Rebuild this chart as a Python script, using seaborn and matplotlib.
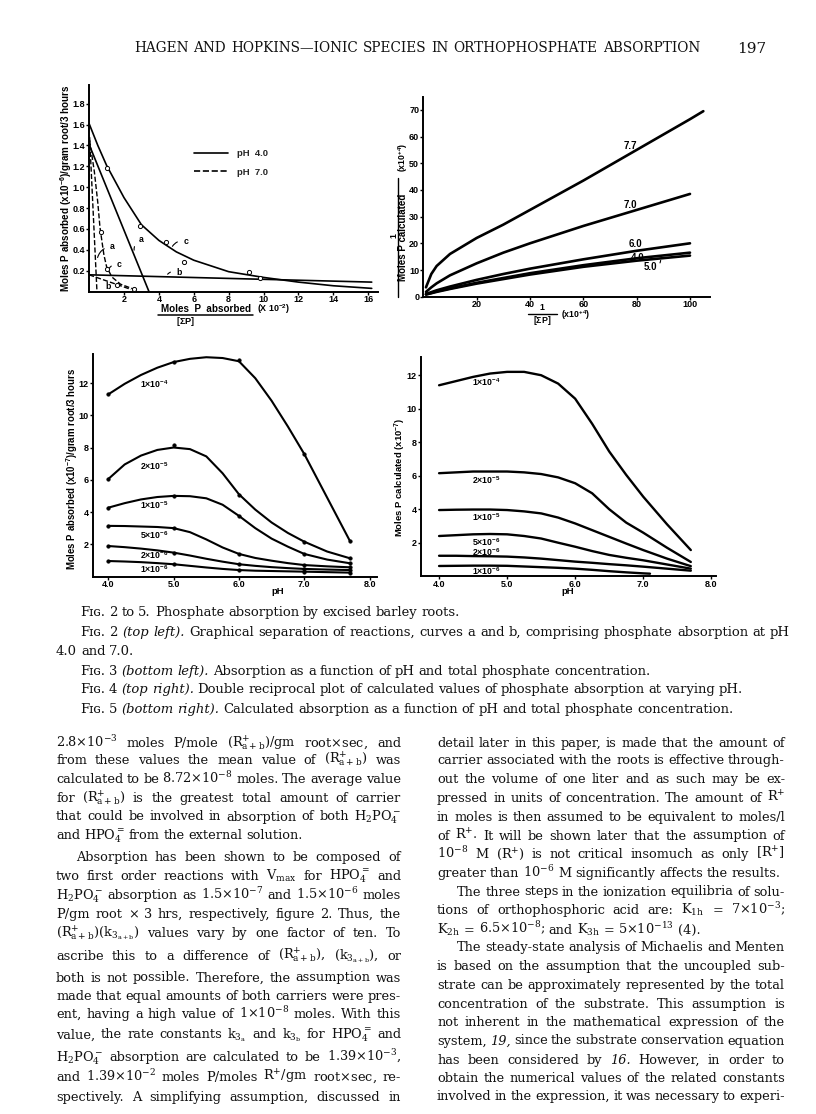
import numpy as np
import pandas as pd
import matplotlib
matplotlib.use("Agg")
import matplotlib.pyplot as plt
from matplotlib.lines import Line2D
import seaborn as sns

sns.set_style("ticks")
plt.rcParams['font.family'] = ['Liberation Sans', 'DejaVu Sans']
plt.rcParams['mathtext.fontset'] = 'custom'
plt.rcParams['mathtext.rm'] = 'Liberation Sans:bold'
plt.rcParams['mathtext.it'] = 'Liberation Sans:bold:italic'
plt.rcParams['mathtext.bf'] = 'Liberation Sans:bold'

W, H = 816, 1114
fig = plt.figure(figsize=(W / 100, H / 100), dpi=100)
fig.patch.set_facecolor("white")
renderer = fig.canvas.get_renderer()

# ---------------- data: Fig. 2 ----------------
f2_c4_x = [0, 0.5, 1, 2, 3, 4, 5, 6, 8, 10, 12, 14, 16.2]
f2_c4_y = [1.61, 1.40, 1.21, 0.90, 0.64, 0.49, 0.38, 0.30, 0.19, 0.135, 0.09, 0.055, 0.03]
f2_a4_x = [0, 3.43]
f2_a4_y = [1.41, 0.0]
f2_b4_x = [0, 16.2]
f2_b4_y = [0.16, 0.09]
f2_c7_x = [0.03, 0.3, 0.5, 0.62, 0.72, 0.85, 1.0, 1.3, 1.8, 2.6]
f2_c7_y = [1.45, 1.15, 0.85, 0.62, 0.50, 0.35, 0.24, 0.14, 0.07, 0.02]
f2_a7_x = [0.03, 0.45]
f2_a7_y = [1.48, 0.0]
f2_b7_x = [0, 2.4]
f2_b7_y = [0.16, 0.02]
f2_pts4_x = [1.04, 2.92, 4.39, 5.46, 9.16, 9.8]
f2_pts4_y = [1.18, 0.63, 0.47, 0.28, 0.19, 0.13]
f2_pts7_x = [0.68, 1.04, 1.6, 2.6]
f2_pts7_y = [0.57, 0.22, 0.06, 0.02]

# ---------------- data: Fig. 4 ----------------
f4_x = [1, 3, 5, 10, 20, 30, 40, 60, 80, 100]
f4_x77 = [1, 3, 5, 10, 20, 30, 40, 60, 80, 100, 105]
f4_77 = [3.5, 8.5, 11.5, 16, 22, 27, 32.5, 43.5, 55, 66.5, 69.5]
f4_70 = [1.8, 3.5, 5, 8, 12.5, 16.5, 20, 26.5, 32.5, 38.5]
f4_60 = [1.0, 1.7, 2.4, 3.8, 6.3, 8.5, 10.5, 14, 17.2, 20]
f4_40 = [0.9, 1.4, 2.0, 3.1, 5.2, 7.0, 8.8, 11.8, 14.4, 16.5]
f4_50 = [0.8, 1.3, 1.8, 2.9, 4.9, 6.6, 8.3, 11.2, 13.5, 15.4]

# ---------------- data: Fig. 3 (measured points + drawn curves) ----------------
ph_pts = [4.0, 5.0, 6.0, 7.0, 7.7]
f3p_1e4 = [11.3, 13.3, 13.4, 7.6, 2.2]
f3p_2e5 = [6.05, 8.15, 5.06, 2.16, 1.13]
f3p_1e5 = [4.27, 5.0, 3.76, 1.4, 0.82]
f3p_5e6 = [3.14, 3.03, 1.4, 0.71, 0.57]
f3p_2e6 = [1.89, 1.48, 0.76, 0.47, 0.40]
f3p_1e6 = [0.96, 0.76, 0.40, 0.30, 0.24]

ph_curve = [4.0, 4.25, 4.5, 4.75, 5.0, 5.25, 5.5, 5.75, 6.0, 6.25, 6.5, 6.75, 7.0, 7.35, 7.7]
f3c_1e4 = [11.3, 11.95, 12.5, 12.95, 13.3, 13.5, 13.6, 13.55, 13.35, 12.3, 10.9, 9.3, 7.6, 4.9, 2.2]
f3c_2e5 = [6.05, 6.95, 7.5, 7.85, 8.0, 7.9, 7.45, 6.4, 5.1, 4.15, 3.35, 2.7, 2.16, 1.55, 1.13]
f3c_1e5 = [4.27, 4.55, 4.78, 4.93, 5.0, 4.98, 4.85, 4.45, 3.76, 3.0, 2.35, 1.85, 1.4, 1.05, 0.82]
f3c_5e6 = [3.14, 3.13, 3.1, 3.07, 3.0, 2.75, 2.3, 1.8, 1.4, 1.15, 0.98, 0.83, 0.71, 0.63, 0.57]
f3c_2e6 = [1.89, 1.82, 1.73, 1.62, 1.48, 1.3, 1.1, 0.92, 0.76, 0.66, 0.58, 0.52, 0.47, 0.43, 0.40]
f3c_1e6 = [0.96, 0.93, 0.89, 0.83, 0.76, 0.66, 0.56, 0.47, 0.40, 0.36, 0.34, 0.32, 0.30, 0.27, 0.24]

# ---------------- data: Fig. 5 ----------------
f5c_1e4 = [11.4, 11.65, 11.9, 12.1, 12.2, 12.2, 12.0, 11.5, 10.6, 9.1, 7.45, 6.05, 4.75, 3.1, 1.56]
f5c_2e5 = [6.15, 6.2, 6.25, 6.25, 6.25, 6.2, 6.1, 5.9, 5.55, 4.95, 4.0, 3.2, 2.6, 1.7, 0.85]
f5c_1e5 = [3.95, 3.97, 3.98, 3.98, 3.95, 3.87, 3.75, 3.5, 3.15, 2.75, 2.35, 1.95, 1.56, 1.05, 0.6]
f5c_5e6 = [2.4, 2.45, 2.5, 2.52, 2.5, 2.4, 2.25, 2.0, 1.76, 1.5, 1.27, 1.1, 0.95, 0.7, 0.45]
f5c_2e6 = [1.22, 1.22, 1.2, 1.19, 1.17, 1.12, 1.05, 0.96, 0.87, 0.8, 0.72, 0.65, 0.57, 0.45, 0.33]
ph_curve_1e6 = [4.0, 4.25, 4.5, 4.75, 5.0, 5.25, 5.5, 5.75, 6.0, 6.25, 6.5, 6.75, 7.0, 7.1]
f5c_1e6 = [0.61, 0.62, 0.63, 0.63, 0.62, 0.58, 0.54, 0.5, 0.45, 0.38, 0.3, 0.23, 0.17, 0.15]

conc_labels = [r"1$\times$10$^{-4}$", r"2$\times$10$^{-5}$", r"1$\times$10$^{-5}$",
               r"5$\times$10$^{-6}$", r"2$\times$10$^{-6}$", r"1$\times$10$^{-6}$"]
f3_label_y = [11.9, 6.85, 4.44, 2.55, 1.3, 0.45]
f5_label_y = [11.6, 5.75, 3.55, 2.06, 1.46, 0.33]

# ---------------- helpers ----------------
def axes_px(x0, y0, x1, y1):
    return fig.add_axes([x0 / W, 1 - y1 / H, (x1 - x0) / W, (y1 - y0) / H])

def fpos(x, y):
    return x / W, 1 - y / H

TICK = 6.5

def style(ax, lw=1.4):
    sns.despine(ax=ax)
    for s in ["left", "bottom"]:
        ax.spines[s].set_linewidth(lw)
        ax.spines[s].set_color("black")
    ax.tick_params(direction="out", length=2.2, width=1, labelsize=TICK, colors="black")
    ax.tick_params(axis="x", pad=0.5)
    ax.tick_params(axis="y", pad=0.8)
    ax.set_facecolor("white")
    ax.set_xlabel("")
    ax.set_ylabel("")

def line(ax, x, y, lw, ls="-"):
    sns.lineplot(x=x, y=y, ax=ax, color="black", lw=lw, linestyle=ls,
                 estimator=None, sort=False, legend=False)

B = dict(fontweight="bold", color="black")

def fit_size(s, target, base=6.0, **kw):
    t = fig.text(0, 0, s, fontsize=base, **kw)
    w = t.get_window_extent(renderer).width
    t.remove()
    return base * target / w

def label(x, y, s, target=None, size=6.0, rotation=0, ha="center", maxsize=99):
    if target is not None:
        size = min(fit_size(s, target, fontweight="bold"), maxsize)
    return fig.text(*fpos(x, y), s, rotation=rotation, ha=ha, va="center", fontsize=size, **B)

# ================= Fig. 2 (top left) =================
ax2 = axes_px(89.1, 85, 378, 291.5)
line(ax2, f2_c4_x, f2_c4_y, 1.2)
line(ax2, f2_a4_x, f2_a4_y, 1.2)
line(ax2, f2_b4_x, f2_b4_y, 1.2)
line(ax2, f2_c7_x, f2_c7_y, 1.0, "--")
line(ax2, f2_a7_x, f2_a7_y, 1.0, "--")
line(ax2, f2_b7_x, f2_b7_y, 1.0, "--")
sns.scatterplot(x=f2_pts4_x, y=f2_pts4_y, ax=ax2, marker="o", s=9, facecolor="white",
                edgecolor="black", linewidth=0.7, zorder=5)
sns.scatterplot(x=f2_pts7_x, y=f2_pts7_y, ax=ax2, marker="o", s=9, facecolor="white",
                edgecolor="black", linewidth=0.7, zorder=5)
ax2.set_xlim(0, 16.56)
ax2.set_ylim(0, 1.98)
style(ax2)
ax2.set_xticks([2, 4, 6, 8, 10, 12, 14, 16], ["2", "4", "6", "8", "10", "12", "14", "16"], fontweight="bold")
ax2.set_yticks([0.2, 0.4, 0.6, 0.8, 1.0, 1.2, 1.4, 1.6, 1.8],
               ["0.2", "0.4", "0.6", "0.8", "1.0", "1.2", "1.4", "1.6", "1.8"], fontweight="bold")
arc = dict(arrowstyle="-", lw=0.8, color="black", connectionstyle="arc3,rad=0.4")
ax2.annotate("c", xy=(4.7, 0.41), xytext=(5.4, 0.48), fontsize=6.3, arrowprops=arc, va="center", **B)
ax2.annotate("a", xy=(2.6, 0.37), xytext=(2.85, 0.50), fontsize=6.3, arrowprops=arc, va="center", **B)
ax2.annotate("b", xy=(4.4, 0.145), xytext=(5.0, 0.185), fontsize=6.3, arrowprops=arc, va="center", **B)
ax2.annotate("a", xy=(0.45, 0.30), xytext=(1.2, 0.43), fontsize=6.3, arrowprops=arc, va="center", **B)
ax2.annotate("c", xy=(1.05, 0.19), xytext=(1.6, 0.26), fontsize=6.3, arrowprops=arc, va="center", **B)
ax2.text(0.95, 0.05, "b", fontsize=6.3, va="center", **B)
handles = [Line2D([], [], color="black", lw=1.2), Line2D([], [], color="black", lw=1.2, ls="--")]
ax2.legend(handles, ["pH  4.0", "pH  7.0"], loc="upper left", bbox_to_anchor=(0.335, 0.73),
           frameon=False, handlelength=3.6, handletextpad=0.9, labelspacing=1.0,
           prop=dict(weight="bold", size=6.8))
label(66.5, 188, r"Moles P absorbed (x10$^{-6}$)/gram root/3 hours", target=208, rotation=90)
label(206, 309.5, "Moles  P  absorbed", target=91)
fig.add_artist(Line2D([158 / W, 253 / W], [1 - 315 / H] * 2, color="black", lw=1.1))
label(186, 321.5, r"[$\Sigma$P]", size=6.6)
label(257, 309.5, r"(X 10$^{-2}$)", size=6.4, ha="left")

# ================= Fig. 4 (top right) =================
ax4 = axes_px(423.3, 97.3, 710, 296.7)
line(ax4, f4_x77, f4_77, 1.9)
line(ax4, f4_x, f4_70, 1.9)
line(ax4, f4_x, f4_60, 1.9)
line(ax4, f4_x, f4_40, 1.9)
line(ax4, f4_x, f4_50, 1.9)
ax4.set_xlim(0, 107.5)
ax4.set_ylim(0, 74.7)
style(ax4)
ax4.set_xticks([20, 40, 60, 80, 100], ["20", "40", "60", "80", "100"], fontweight="bold")
ax4.set_yticks([0, 10, 20, 30, 40, 50, 60, 70], ["0", "10", "20", "30", "40", "50", "60", "70"], fontweight="bold")
for lab, (xx, yy) in zip(["7.7", "7.0", "6.0", "4.0"], [(77.5, 56.5), (77.5, 34.5), (79.5, 19.6), (80.5, 14.4)]):
    ax4.text(xx, yy, lab, fontsize=7, ha="center", va="center", **B)
ax4.annotate("5.0", xy=(89, 13.6), xytext=(85, 11.3), fontsize=7, ha="center", va="center",
             arrowprops=dict(arrowstyle="-", lw=0.8, color="black", connectionstyle="arc3,rad=0.6"), **B)
label(403.5, 237, "Moles P calculated", target=112, maxsize=7.0, rotation=90)
label(403.5, 157, r"(x10$^{+4}$)", size=6.3, rotation=90)
fig.add_artist(Line2D([398 / W] * 2, [1 - 297 / H, 1 - 178 / H], color="black", lw=1.0))
label(393.5, 236, "1", size=6.3, rotation=90)
label(542, 308, "1", size=6.3)
fig.add_artist(Line2D([528 / W, 557 / W], [1 - 313.5 / H] * 2, color="black", lw=1.0))
label(542, 320.5, r"[$\Sigma$P]", size=6.3)
label(561, 315, r"(x10$^{+4}$)", size=6.3, ha="left")

# ================= Fig. 3 (bottom left) =================
ax3 = axes_px(92.7, 354, 376.7, 576.5)
for yc, yp in zip([f3c_1e4, f3c_2e5, f3c_1e5, f3c_5e6, f3c_2e6, f3c_1e6],
                  [f3p_1e4, f3p_2e5, f3p_1e5, f3p_5e6, f3p_2e6, f3p_1e6]):
    line(ax3, ph_curve, yc, 1.5)
    sns.scatterplot(x=ph_pts, y=yp, ax=ax3, marker="o", s=7, color="black", edgecolor="black",
                    linewidth=0.3, zorder=5)
ax3.set_xlim(3.76, 8.11)
ax3.set_ylim(0, 13.8)
style(ax3)
ax3.set_xticks([4, 5, 6, 7, 8], ["4.0", "5.0", "6.0", "7.0", "8.0"], fontweight="bold")
ax3.set_yticks([2, 4, 6, 8, 10, 12], ["2", "4", "6", "8", "10", "12"], fontweight="bold")
for lab, yy in zip(conc_labels, f3_label_y):
    ax3.text(4.7, yy, lab, fontsize=6.3, ha="center", va="center", **B)
label(72.5, 469, r"Moles P absorbed (x10$^{-7}$)/gram root/3 hours", target=204, rotation=90)
label(278, 592, "pH", size=6.8)

# ================= Fig. 5 (bottom right) =================
ax5 = axes_px(420.7, 357.3, 716, 576.2)
for yc in [f5c_1e4, f5c_2e5, f5c_1e5, f5c_5e6, f5c_2e6]:
    line(ax5, ph_curve, yc, 1.7)
line(ax5, ph_curve_1e6, f5c_1e6, 1.7)
ax5.set_xlim(3.73, 8.07)
ax5.set_ylim(0, 13.07)
style(ax5)
ax5.set_xticks([4, 5, 6, 7, 8], ["4.0", "5.0", "6.0", "7.0", "8.0"], fontweight="bold")
ax5.set_yticks([2, 4, 6, 8, 10, 12], ["2", "4", "6", "8", "10", "12"], fontweight="bold")
for lab, yy in zip(conc_labels, f5_label_y):
    ax5.text(4.7, yy, lab, fontsize=6.3, ha="center", va="center", **B)
label(400.5, 477, r"Moles P calculated (x10$^{-7}$)", target=120, rotation=90)
label(568, 592, "pH", size=6.8)

# ================= page text =================
SERIF = "DejaVu Serif"

def make_words(line_text, size, weight="normal"):
    objs = []
    for w in line_text.split(" "):
        if not w:
            continue
        st = "normal"
        if len(w) > 1 and w.startswith("*") and w.endswith("*"):
            w = w[1:-1]
            st = "italic"
        t = fig.text(0, 0, w, fontsize=size, family=SERIF, style=st, weight=weight,
                     math_fontfamily="dejavuserif", va="baseline", ha="left", color="#111111")
        objs.append(t)
    return objs

def widths(objs):
    return [t.get_window_extent(renderer).width for t in objs]

def natural_width(line_text, size):
    objs = make_words(line_text, size)
    ws = widths(objs)
    for t in objs:
        t.remove()
    return sum(ws) + 0.30 * size * 100 / 72 * (len(ws) - 1)

def place(line_text, x0, y, size, x1=None, indent=0):
    objs = make_words(line_text, size)
    ws = widths(objs)
    sp = 0.30 * size * 100 / 72
    x = x0 + indent
    gap = sp
    if x1 is not None and len(objs) > 1:
        gap = max((x1 - x - sum(ws)) / (len(objs) - 1), 0.45 * sp)
    for t, w in zip(objs, ws):
        t.set_position(fpos(x, y))
        x += w + gap

# header
hdr = "HAGEN AND HOPKINS\u2014IONIC SPECIES IN ORTHOPHOSPHATE ABSORPTION"
hs = 8.0 * 560 / natural_width(hdr, 8.0)
place(hdr, 134, 52, hs, x1=700)
fig.text(*fpos(737, 53), "197", fontsize=11, family=SERIF, va="baseline", ha="left", color="#111111")

# captions
cap = [
    ("F\u026a\u0262. 2 to 5. Phosphate absorption by excised barley roots.", 80, 616, False),
    ("F\u026a\u0262. 2 *(top* *left).* Graphical separation of reactions, curves a and b, comprising phosphate absorption at pH", 80, 636, True),
    ("4.0 and 7.0.", 56, 655, False),
    ("F\u026a\u0262. 3 *(bottom* *left).* Absorption as a function of pH and total phosphate concentration.", 80, 675, False),
    ("F\u026a\u0262. 4 *(top* *right).* Double reciprocal plot of calculated values of phosphate absorption at varying pH.", 80, 693, False),
    ("F\u026a\u0262. 5 *(bottom* *right).* Calculated absorption as a function of pH and total phosphate concentration.", 80, 713, False),
]
cs = 8.0 * 706 / natural_width(cap[1][0], 8.0)
for txt, x0, y, just in cap:
    place(txt, x0, y, cs, x1=790 if just else None)

left_lines = [
    (r"2.8$\times$10$^{-3}$ moles P/mole (R$^{+}_{\mathrm{a+b}}$)/gm root$\times$sec, and", True, 0),
    (r"from these values the mean value of (R$^{+}_{\mathrm{a+b}}$) was", True, 0),
    (r"calculated to be 8.72$\times$10$^{-8}$ moles. The average value", True, 0),
    (r"for (R$^{+}_{\mathrm{a+b}}$) is the greatest total amount of carrier", True, 0),
    (r"that could be involved in absorption of both H$_2$PO$_4^-$", True, 0),
    (r"and HPO$_4^=$ from the external solution.", False, 0),
    (r"Absorption has been shown to be composed of", True, 20),
    (r"two first order reactions with V$_{\mathrm{max}}$ for HPO$_4^=$ and", True, 0),
    (r"H$_2$PO$_4^-$ absorption as 1.5$\times$10$^{-7}$ and 1.5$\times$10$^{-6}$ moles", True, 0),
    (r"P/gm root $\times$ 3 hrs, respectively, figure 2. Thus, the", True, 0),
    (r"(R$^{+}_{\mathrm{a+b}}$)(k$_{3_{\mathrm{a+b}}}$) values vary by one factor of ten. To", True, 0),
    (r"ascribe this to a difference of (R$^{+}_{\mathrm{a+b}}$), (k$_{3_{\mathrm{a+b}}}$), or", True, 0),
    (r"both is not possible. Therefore, the assumption was", True, 0),
    (r"made that equal amounts of both carriers were pres-", True, 0),
    (r"ent, having a high value of 1$\times$10$^{-8}$ moles. With this", True, 0),
    (r"value, the rate constants k$_{3_{\mathrm{a}}}$ and k$_{3_{\mathrm{b}}}$ for HPO$_4^=$ and", True, 0),
    (r"H$_2$PO$_4^-$ absorption are calculated to be 1.39$\times$10$^{-3}$,", True, 0),
    (r"and 1.39$\times$10$^{-2}$ moles P/moles R$^{+}$/gm root$\times$sec, re-", True, 0),
    (r"spectively. A simplifying assumption, discussed in", True, 0),
]
left_y = [743, 759.6, 779.1, 797.8, 816.5, 835.1, 857.1, 875.8, 895.3, 914, 932.7, 955.5,
          977.5, 995.7, 1014, 1034.3, 1057.2, 1077.1, 1097]

right_lines = [
    (r"detail later in this paper, is made that the amount of", True, 0),
    (r"carrier associated with the roots is effective through-", True, 0),
    (r"out the volume of one liter and as such may be ex-", True, 0),
    (r"pressed in units of concentration. The amount of R$^{+}$", True, 0),
    (r"in moles is then assumed to be equivalent to moles/l", True, 0),
    (r"of R$^{+}$. It will be shown later that the assumption of", True, 0),
    (r"10$^{-8}$ M (R$^{+}$) is not critical insomuch as only [R$^{+}$]", True, 0),
    (r"greater than 10$^{-6}$ M significantly affects the results.", False, 0),
    (r"The three steps in the ionization equilibria of solu-", True, 20),
    (r"tions of orthophosphoric acid are: K$_{\mathrm{1h}}$ = 7$\times$10$^{-3}$;", True, 0),
    (r"K$_{\mathrm{2h}}$ = 6.5$\times$10$^{-8}$; and K$_{\mathrm{3h}}$ = 5$\times$10$^{-13}$ (4).", False, 0),
    (r"The steady-state analysis of Michaelis and Menten", True, 20),
    (r"is based on the assumption that the uncoupled sub-", True, 0),
    (r"strate can be approximately represented by the total", True, 0),
    (r"concentration of the substrate. This assumption is", True, 0),
    (r"not inherent in the mathematical expression of the", True, 0),
    (r"system, *19,* since the substrate conservation equation", True, 0),
    (r"has been considered by *16.* However, in order to", True, 0),
    (r"obtain the numerical values of the related constants", True, 0),
    (r"involved in the expression, it was necessary to experi-", True, 0),
]
right_y = [743, 760.4, 779.1, 797.8, 816.9, 835.5, 854.2, 872.9, 891.5, 910.2, 929.7, 947.2,
           965.8, 984.9, 1003.6, 1022.3, 1040.5, 1059.6, 1077.9, 1095.8]

ratios = []
for (txt, just, ind) in left_lines:
    if just:
        ratios.append((345 - ind) / natural_width(txt, 8.0))
for (txt, just, ind) in right_lines:
    if just:
        ratios.append((348 - ind) / natural_width(txt, 8.0))
bs = 8.0 * float(np.percentile(ratios, 20))
for (txt, just, ind), y in zip(left_lines, left_y):
    place(txt, 56, y + 4, bs, x1=401 if just else None, indent=ind)
for (txt, just, ind), y in zip(right_lines, right_y):
    place(txt, 437, y + 4, bs, x1=785 if just else None, indent=ind)

fig.savefig("out.png", dpi=100, facecolor="white")
